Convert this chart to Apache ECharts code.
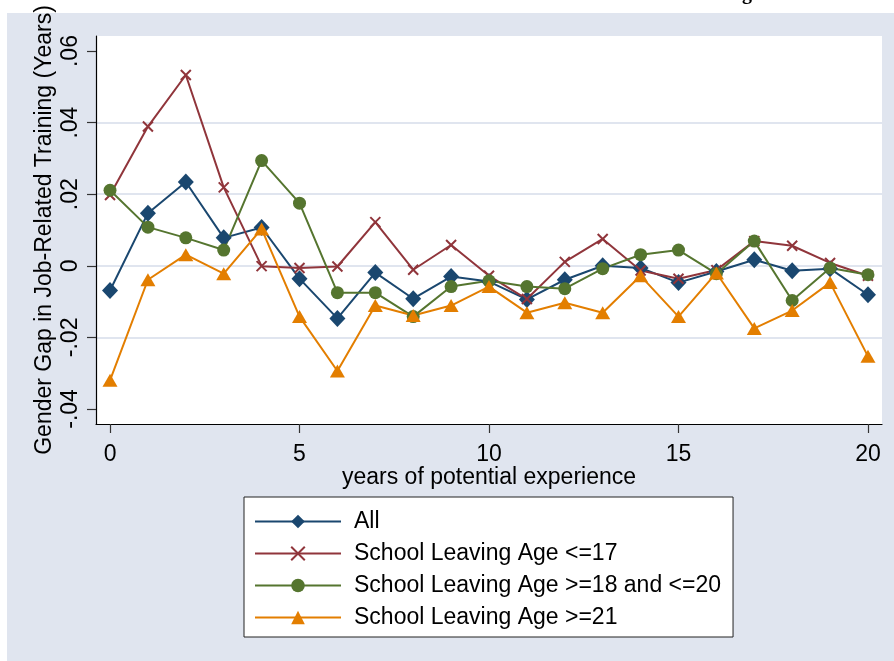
<!DOCTYPE html>
<html>
<head>
<meta charset="utf-8">
<script src="https://cdn.jsdelivr.net/npm/echarts@6/dist/echarts.min.js"></script>
<style>
  html, body { margin: 0; padding: 0; background: #fff; }
  #chart { width: 894px; height: 661px; }
</style>
</head>
<body>
<div id="chart"></div>
<script>
// potential experience (years)
const years = [0, 1, 2, 3, 4, 5, 6, 7, 8, 9, 10, 11, 12, 13, 14, 15, 16, 17, 18, 19, 20]

// gender gap in job-related training
const gapAll = [-0.0069, 0.0147, 0.0234, 0.0078, 0.0107, -0.0036, -0.0147, -0.0019, -0.0092, -0.0030, -0.0044,
  -0.0094, -0.0039, 0.0000, -0.0006, -0.0047, -0.0016, 0.0017, -0.0014, -0.0008, -0.0081]
const gapLe17 = [0.0198, 0.0389, 0.0533, 0.0219, -0.0001, -0.0006, -0.0002, 0.0122, -0.0011, 0.0058, -0.0028,
  -0.0093, 0.0011, 0.0075, -0.0013, -0.0036, -0.0012, 0.0069, 0.0056, 0.0008, -0.0028]
const gap18to20 = [0.0211, 0.0108, 0.0078, 0.0044, 0.0294, 0.0175, -0.0075, -0.0075, -0.0142, -0.0058, -0.0042,
  -0.0058, -0.0064, -0.0008, 0.0031, 0.0044, -0.0022, 0.0069, -0.0097, -0.0006, -0.0025]
const gapGe21 = [-0.0320, -0.0039, 0.0031, -0.0022, 0.0103, -0.0142, -0.0294, -0.0111, -0.0139, -0.0111, -0.0058,
  -0.0131, -0.0103, -0.0131, -0.0028, -0.0142, -0.0020, -0.0175, -0.0125, -0.0047, -0.0253]

const seriesNames = ['All', 'School Leaving Age <=17', 'School Leaving Age >=18 and <=20', 'School Leaving Age >=21']
const xTicks = [0, 5, 10, 15, 20]
const yTicks = [-0.04, -0.02, 0, 0.02, 0.04, 0.06]

const FONT = 'Liberation Sans, Arial, sans-serif'
const FS = 23
const BG = '#e0e5ef'

const pairs = vals => years.map((x, i) => [x, vals[i]])
const yFmt = v => (Math.abs(v) < 1e-9 ? '0' : String(+v.toFixed(2)).replace('0.', '.'))

function line(name, vals, color, symbol, size, extra) {
  return Object.assign({
    name: name,
    type: 'line',
    data: pairs(vals),
    symbol: symbol,
    symbolSize: size,
    showSymbol: true,
    animation: false,
    lineStyle: { color: color, width: 2 },
    itemStyle: { color: color }
  }, extra || {})
}

const chart = echarts.init(document.getElementById('chart'))
chart.setOption({
  backgroundColor: '#fff',
  animation: false,
  textStyle: { fontFamily: FONT },
  graphic: [
    { type: 'rect', z: -10, shape: { x: 7, y: 13, width: 887, height: 648 }, style: { fill: BG } },
    { type: 'text', z: -5, style: { text: 'Training', x: 752, y: 4, align: 'right', verticalAlign: 'bottom',
      font: 'bold 20px "Liberation Serif", "Times New Roman", serif', fill: '#000' } }
  ],
  grid: {
    left: 96, right: 12, top: 36, bottom: 237,
    show: true, backgroundColor: '#fff', borderWidth: 0
  },
  xAxis: {
    type: 'value',
    min: -0.37, max: 20.37,
    name: 'years of potential experience',
    nameLocation: 'middle',
    nameGap: 42,
    nameMoveOverlap: false,
    nameTextStyle: { fontSize: FS, color: '#000', fontFamily: FONT },
    axisLine: { onZero: false, lineStyle: { color: '#000', width: 1.2 } },
    axisTick: { customValues: xTicks, length: 9, lineStyle: { color: '#333', width: 1.2 } },
    axisLabel: { customValues: xTicks, fontSize: FS, color: '#000', margin: 19, fontFamily: FONT },
    splitLine: { show: false }
  },
  yAxis: {
    type: 'value',
    min: -0.0442, max: 0.0642,
    name: 'Gender Gap in Job-Related Training (Years)',
    nameLocation: 'middle',
    nameRotate: 90,
    nameGap: 40,
    nameMoveOverlap: false,
    nameTextStyle: { fontSize: FS, color: '#000', fontFamily: FONT },
    axisLine: { show: true, onZero: false, lineStyle: { color: '#000', width: 1.2 } },
    axisTick: { show: true, customValues: yTicks, length: 9, lineStyle: { color: '#333', width: 1.2 } },
    axisLabel: { customValues: yTicks, rotate: 90, fontSize: FS, color: '#000', margin: 14,
      formatter: yFmt, fontFamily: FONT },
    splitLine: { show: true, showMinLine: false, showMaxLine: false, lineStyle: { color: BG, width: 2 } }
  },
  legend: {
    orient: 'vertical',
    left: 244, top: 497,
    padding: [13, 12, 8, 10],
    itemGap: 9,
    itemWidth: 86,
    itemHeight: 17,
    backgroundColor: '#fff',
    borderColor: '#222',
    borderWidth: 1,
    data: seriesNames,
    textStyle: { fontSize: FS, color: '#000', fontFamily: FONT, padding: [0, 0, 0, 8] }
  },
  series: [
    line(seriesNames[0], gapAll, '#1a476f', 'diamond', [16, 17]),
    line(seriesNames[1], gapLe17, '#90353b', 'path://M0,0L10,10M10,0L0,10', 10,
      { itemStyle: { color: '#90353b', borderColor: '#90353b', borderWidth: 2 } }),
    line(seriesNames[2], gap18to20, '#55752f', 'circle', 13),
    line(seriesNames[3], gapGe21, '#e37e00', 'triangle', [15, 13])
  ]
})
</script>
</body>
</html>
